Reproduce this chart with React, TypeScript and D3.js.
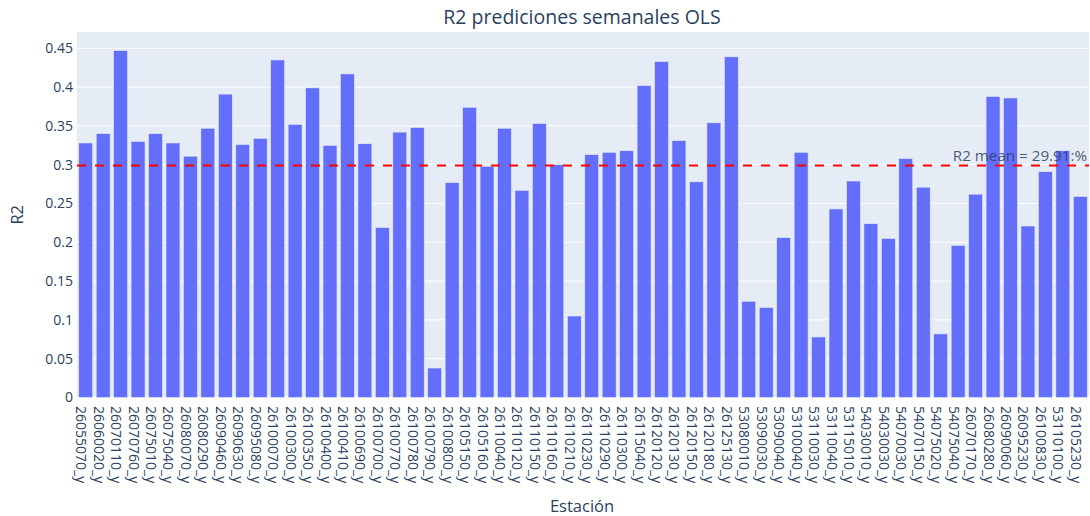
import React from "react";
import * as d3 from "d3";

const stations: string[] = [
  "26055070_y", "26060020_y", "26070110_y", "26070760_y", "26075010_y", "26075040_y",
  "26080070_y", "26080290_y", "26090460_y", "26090630_y", "26095080_y", "26100070_y",
  "26100300_y", "26100350_y", "26100400_y", "26100410_y", "26100690_y", "26100700_y",
  "26100770_y", "26100780_y", "26100790_y", "26100800_y", "26105150_y", "26105160_y",
  "26110040_y", "26110120_y", "26110150_y", "26110160_y", "26110210_y", "26110230_y",
  "26110290_y", "26110300_y", "26115040_y", "26120120_y", "26120130_y", "26120150_y",
  "26120180_y", "26125130_y", "53080010_y", "53090030_y", "53090040_y", "53100040_y",
  "53110030_y", "53110040_y", "53115010_y", "54030010_y", "54030030_y", "54070030_y",
  "54070150_y", "54075020_y", "54075040_y", "26070170_y", "26080280_y", "26090060_y",
  "26095230_y", "26100830_y", "53110100_y", "26105230_y",
];

const r2Values: number[] = [
  0.328, 0.340, 0.447, 0.330, 0.340, 0.328,
  0.311, 0.347, 0.391, 0.326, 0.334, 0.435,
  0.352, 0.399, 0.325, 0.417, 0.327, 0.219,
  0.342, 0.348, 0.038, 0.277, 0.374, 0.298,
  0.347, 0.267, 0.353, 0.300, 0.105, 0.313,
  0.316, 0.318, 0.402, 0.433, 0.331, 0.278,
  0.354, 0.439, 0.124, 0.116, 0.206, 0.316,
  0.078, 0.243, 0.279, 0.224, 0.205, 0.308,
  0.271, 0.082, 0.196, 0.262, 0.388, 0.386,
  0.221, 0.291, 0.318, 0.259,
];

const yTickValues: number[] = [0, 0.05, 0.1, 0.15, 0.2, 0.25, 0.3, 0.35, 0.4, 0.45];
const meanR2 = 0.2991;
const meanLabel = "R2 mean = 29.91:%";
const titleText = "R2 prediciones semanales OLS";
const xTitle = "Estación";
const yTitle = "R2";

const W = 1090;
const H = 516;
const plot = { left: 77, right: 1089, top: 32, bottom: 397.5 };
const FONT = '"Open Sans", verdana, arial, sans-serif';
const TXT = "#2a3f5f";

export default function App() {
  const x = d3
    .scaleBand<string>()
    .domain(stations)
    .range([plot.left, plot.right])
    .paddingInner(0.2)
    .paddingOuter(0.1);
  const y = d3.scaleLinear().domain([0, 0.471]).range([plot.bottom, plot.top]);
  const fmt = (v: number) => d3.format("~g")(+v.toFixed(2));
  const yMean = y(meanR2);

  return (
    <svg
      width={W}
      height={H}
      style={{ position: "absolute", left: 0, top: 0, background: "#fff" }}
      fontFamily={FONT}
    >
      <rect
        x={plot.left}
        y={plot.top}
        width={plot.right - plot.left}
        height={plot.bottom - plot.top}
        fill="#E5ECF6"
      />
      {yTickValues.map((t) => (
        <g key={t}>
          <line
            x1={plot.left}
            x2={plot.right}
            y1={y(t)}
            y2={y(t)}
            stroke="#fff"
            strokeWidth={t === 0 ? 2 : 1}
          />
          <text
            x={73}
            y={y(t)}
            dy="0.35em"
            textAnchor="end"
            fontSize={14}
            fill={TXT}
          >
            {fmt(t)}
          </text>
        </g>
      ))}
      {stations.map((s, i) => (
        <rect
          key={s}
          x={x(s)!}
          y={y(r2Values[i])}
          width={x.bandwidth()}
          height={plot.bottom - y(r2Values[i])}
          fill="#636efa"
          stroke="#E5ECF6"
          strokeWidth={0.6}
        />
      ))}
      <line
        x1={plot.left}
        x2={plot.right}
        y1={yMean}
        y2={yMean}
        stroke="red"
        strokeWidth={2}
        strokeDasharray="9,9"
      />
      <text
        x={1087}
        y={yMean - 4}
        textAnchor="end"
        fontSize={15.2}
        fill={TXT}
        fillOpacity={0.85}
      >
        {meanLabel}
      </text>
      {stations.map((s) => {
        const cx = x(s)! + x.bandwidth() / 2 - 4;
        return (
          <text
            key={"l" + s}
            transform={`translate(${cx},406) rotate(90)`}
            textAnchor="start"
            dominantBaseline="central"
            fontSize={14}
            fill={TXT}
          >
            {s}
          </text>
        );
      })}
      <text
        x={582}
        y={24}
        textAnchor="middle"
        fontSize={19.5}
        fill={TXT}
      >
        {titleText}
      </text>
      <text
        x={582}
        y={512}
        textAnchor="middle"
        fontSize={16.5}
        fill={TXT}
      >
        {xTitle}
      </text>
      <text
        transform={`translate(16,${(plot.top + plot.bottom) / 2}) rotate(-90)`}
        textAnchor="middle"
        dominantBaseline="central"
        fontSize={16.5}
        fill={TXT}
      >
        {yTitle}
      </text>
    </svg>
  );
}
